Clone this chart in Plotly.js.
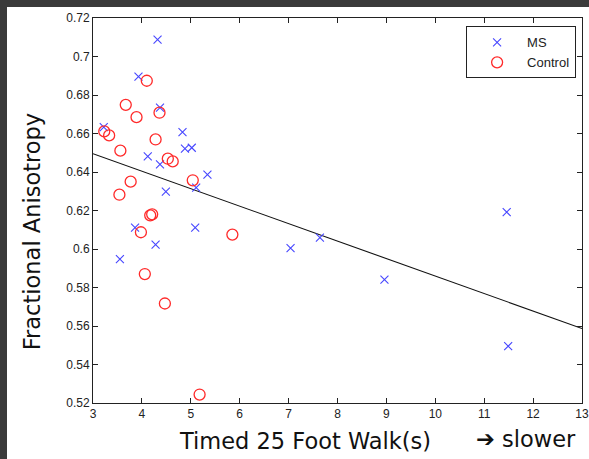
<!DOCTYPE html>
<html>
<head>
<meta charset="utf-8">
<script src="https://cdn.plot.ly/plotly-3.0.1.min.js"></script>
<style>
  html, body { margin: 0; padding: 0; width: 589px; height: 459px; overflow: hidden; background: #3a3a3a; }
  #chart { position: absolute; left: 7px; top: 7px; width: 582px; height: 452px; background: #fff; }
</style>
</head>
<body>
<div id="chart"></div>
<script>
// MS group: Timed 25 Foot Walk (s) vs Fractional Anisotropy
const msWalk = [4.32, 3.93, 4.37, 3.22, 4.83, 4.88, 5.02, 4.12, 4.37, 5.34, 5.11, 4.49,
                3.86, 5.09, 4.28, 3.55, 7.04, 7.64, 8.96, 11.46, 11.49];
const msFA   = [0.7088, 0.6896, 0.6734, 0.6633, 0.6607, 0.6521, 0.6526, 0.6481, 0.6440, 0.6386, 0.6319, 0.6298,
                0.6111, 0.6111, 0.6023, 0.5947, 0.6005, 0.6059, 0.5841, 0.6192, 0.5495];
// Control group
const ctrlWalk = [4.10, 3.67, 3.89, 4.36, 3.23, 3.33, 4.28, 3.56, 4.53, 4.63, 5.04, 3.77, 3.54,
                  4.17, 4.21, 3.98, 5.85, 4.06, 4.47, 5.18];
const ctrlFA   = [0.6874, 0.6749, 0.6685, 0.6708, 0.6611, 0.6590, 0.6569, 0.6511, 0.6469, 0.6455, 0.6357, 0.6350, 0.6282,
                  0.6175, 0.6180, 0.6087, 0.6075, 0.5870, 0.5717, 0.5244];
// Regression line endpoints
const fitWalk = [3, 13];
const fitFA   = [0.6495, 0.5587];

const xTicks = [3, 4, 5, 6, 7, 8, 9, 10, 11, 12, 13];
const yTicks = [0.52, 0.54, 0.56, 0.58, 0.6, 0.62, 0.64, 0.66, 0.68, 0.7, 0.72];

const traces = [
  { x: fitWalk, y: fitFA, mode: 'lines', line: { color: '#111', width: 1.1 },
    showlegend: false, hoverinfo: 'skip' },
  { x: msWalk, y: msFA, mode: 'markers', name: 'MS',
    marker: { symbol: 'x-thin-open', size: 8, color: '#4646ff', line: { color: '#4646ff', width: 1.1 } } },
  { x: ctrlWalk, y: ctrlFA, mode: 'markers', name: 'Control',
    marker: { symbol: 'circle-open', size: 11, color: '#ff2a2a', line: { color: '#ff2a2a', width: 1.3 } } }
];

const tickFont = { family: 'Liberation Sans, Arial, sans-serif', size: 12, color: '#222' };
const titleFont = { family: 'DejaVu Sans, Verdana, sans-serif', size: 22.5, color: '#111' };

const layout = {
  width: 582, height: 452,
  margin: { l: 86, r: 7, t: 10.5, b: 56 },
  paper_bgcolor: '#fff', plot_bgcolor: '#fff',
  showlegend: true,
  legend: {
    x: 0.763, xanchor: 'left', y: 0.978, yanchor: 'top',
    bgcolor: '#fff', bordercolor: '#222', borderwidth: 1,
    font: { family: 'Liberation Sans, Arial, sans-serif', size: 13, color: '#222' },
    itemwidth: 50, tracegroupgap: 0
  },
  xaxis: {
    range: [3, 13], tickmode: 'array', tickvals: xTicks, ticktext: xTicks.map(String),
    ticks: 'inside', ticklen: 5, tickcolor: '#222', showline: true, linecolor: '#222', linewidth: 1,
    mirror: 'ticks', showgrid: false, zeroline: false, tickfont: tickFont
  },
  yaxis: {
    range: [0.52, 0.72], tickmode: 'array', tickvals: yTicks, ticktext: yTicks.map(v => String(v)),
    ticks: 'inside', ticklen: 5, tickcolor: '#222', showline: true, linecolor: '#222', linewidth: 1,
    mirror: 'ticks', showgrid: false, zeroline: false, tickfont: tickFont
  },
  annotations: [
    { text: 'Timed 25 Foot Walk(s)', xref: 'paper', yref: 'paper',
      x: (305 - 93) / 489, y: -(441 - 403) / 385.5, xanchor: 'center', yanchor: 'middle',
      showarrow: false, font: titleFont },
    { text: '➔ slower', xref: 'paper', yref: 'paper',
      x: (526 - 93) / 489, y: -(439 - 403) / 385.5, xanchor: 'center', yanchor: 'middle',
      showarrow: false, font: titleFont },
    { text: 'Fractional Anisotropy', xref: 'paper', yref: 'paper', textangle: -90,
      x: -(93 - 32) / 489, y: 1 - (232 - 17.5) / 385.5, xanchor: 'center', yanchor: 'middle',
      showarrow: false, font: titleFont }
  ]
};

Plotly.newPlot('chart', traces, layout, { displayModeBar: false, staticPlot: true });
</script>
</body>
</html>
